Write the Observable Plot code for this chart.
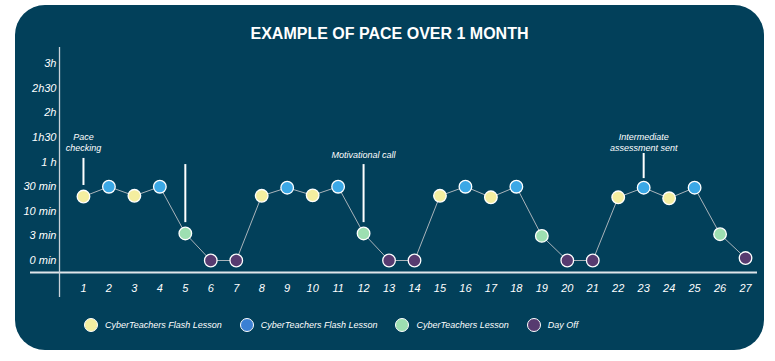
<!DOCTYPE html>
<html><head><meta charset="utf-8">
<script src="https://cdn.jsdelivr.net/npm/d3@7"></script>
<script src="https://cdn.jsdelivr.net/npm/@observablehq/plot@0.6"></script>
<style>
html,body{margin:0;padding:0;background:#fff;width:775px;height:361px;overflow:hidden;}
#card{position:absolute;left:15px;top:5px;width:749px;height:345px;border-radius:30px;background:#02405a;font-family:"Liberation Sans",Arial,sans-serif;color:#fff;}
#title{padding-top:21px;height:19px;line-height:16px;font-size:16px;font-weight:bold;text-align:center;}
#chart svg{display:block;}
#legend{display:flex;align-items:center;gap:18px;padding-left:69px;margin-top:14px;height:16px;font-size:9px;font-style:italic;}
.item{display:flex;align-items:center;gap:7px;}
.sw{width:14px;height:14px;border-radius:50%;border:1.3px solid #fff;box-sizing:border-box;}
</style></head>
<body>
<div id="card">
  <div id="title">EXAMPLE OF PACE OVER 1 MONTH</div>
  <div id="chart"></div>
  <div id="legend"></div>
</div>
<script>
// ---- data ----
const days = [1,2,3,4,5,6,7,8,9,10,11,12,13,14,15,16,17,18,19,20,21,22,23,24,25,26,27];
// pace level on the ordinal time ladder (0 = 0 min, 1 = 3 min, 2 = 10 min, 3 = 30 min, 4 = 1 h, ...)
const paceLevels = [2.6,3.0,2.63,3.0,1.1,0,0,2.63,2.96,2.65,3.0,1.1,0,0,2.63,3.0,2.57,3.0,1.0,0,0,2.57,2.96,2.53,2.96,1.07,0.1];
// 0 = flash lesson (yellow), 1 = flash lesson (blue), 2 = lesson, 3 = day off
const dayTypes = [0,1,0,1,2,3,3,0,1,0,1,2,3,3,0,1,0,1,2,3,3,0,1,0,1,2,3];
const typeKeys = ["flashA","flashB","lesson","off"];
const typeLabels = ["CyberTeachers Flash Lesson","CyberTeachers Flash Lesson","CyberTeachers Lesson","Day Off"];
const pointColors = ["#f4eea0","#3ba8e6","#9ddfb1","#573b70"];
const legendColors = ["#f4eea0","#3b80d4","#9ddfb1","#573b70"];
const yTicks = [0,1,2,3,4,5,6,7,8];
const yTickLabels = ["0 min","3 min","10 min","30 min","1 h","1h30","2h","2h30","3h"];
const annDays = [1,5,12,23];
const annTop = [4.15,3.9,3.9,4.35];
const annBottom = [3.05,1.54,1.54,3.33];
const noteDays = [1,12,23];
const noteTexts = ["Pace\nchecking","Motivational call","Intermediate\nassessment sent"];
const noteLevels = [4.45,4.15,4.45];
// frame extents
const xDomain = [-1.08, 27.47];
const yDomain = [-1.504, 8.66];
const yAxisDay = 0.059;
const xAxisLevel = -0.488;

const data = days.map((d,i) => ({day:d, level:paceLevels[i], type:typeKeys[dayTypes[i]]}));
const ann = annDays.map((d,i) => ({day:d, top:annTop[i], bottom:annBottom[i]}));
const notes = noteDays.map((d,i) => ({day:d, text:noteTexts[i], level:noteLevels[i]}));

const chart = Plot.plot({
  width: 749, height: 258,
  marginLeft: 15, marginRight: 7, marginTop: 2, marginBottom: 6,
  style: {background:"transparent", color:"#fff", fontFamily:"'Liberation Sans', Arial, sans-serif", fontStyle:"italic"},
  x: {domain: xDomain},
  y: {domain: yDomain},
  color: {domain: typeKeys, range: pointColors},
  marks: [
    Plot.ruleY([xAxisLevel], {stroke:"#dfe5ea", strokeWidth:2}),
    Plot.ruleX([yAxisDay], {stroke:"#c9d2d9", strokeWidth:1.3}),
    Plot.axisY({ticks: yTicks, tickFormat: v => yTickLabels[v], tickSize:0, tickPadding:3, dx:29, fontSize:11, label:null}),
    Plot.axisX({ticks: days, tickFormat: d => String(d), tickSize:0, dy:-22, fontSize:11, label:null}),
    Plot.line(data, {x:"day", y:"level", stroke:"#aab4bb", strokeWidth:1}),
    Plot.ruleX(ann, {x:"day", y1:"top", y2:"bottom", stroke:"#fff", strokeWidth:2}),
    Plot.text(notes, {x:"day", y:"level", text:"text", lineAnchor:"bottom", fontSize:9, lineHeight:1.2, fill:"#fff"}),
    Plot.dot(data, {x:"day", y:"level", r:6.3, fill:"type", stroke:"#fff", strokeWidth:1.3})
  ]
});
document.getElementById("chart").appendChild(chart);

const legend = document.getElementById("legend");
typeLabels.forEach((lab,i) => {
  const it = document.createElement("div"); it.className = "item";
  const sw = document.createElement("div"); sw.className = "sw"; sw.style.background = legendColors[i];
  const tx = document.createElement("span"); tx.textContent = lab;
  it.appendChild(sw); it.appendChild(tx); legend.appendChild(it);
});
</script>
</body></html>
